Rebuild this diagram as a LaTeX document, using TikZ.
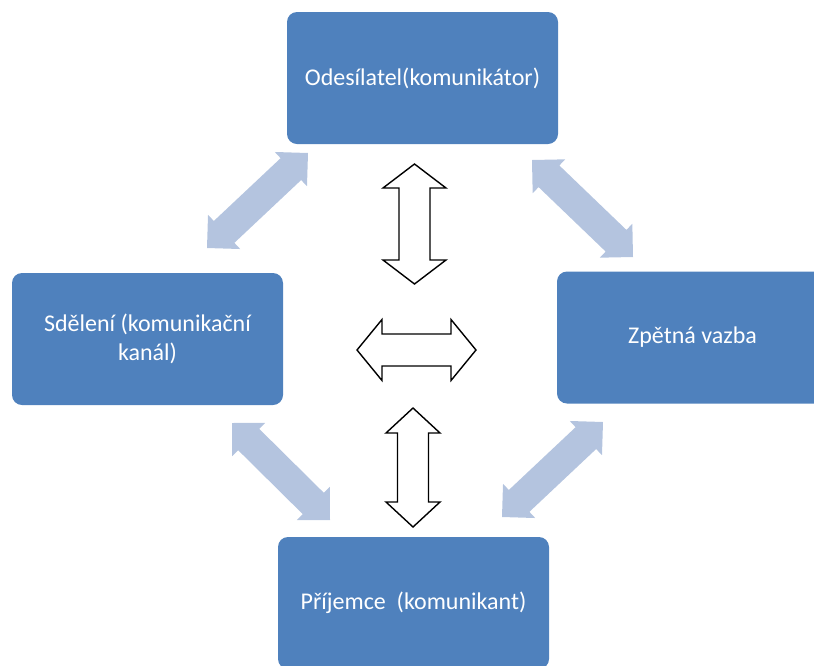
\documentclass[tikz,border=0pt]{standalone}
\usepackage{fontspec}
\setmainfont{Carlito}
\usetikzlibrary{calc}

\definecolor{boxblue}{RGB}{79,129,189}
\definecolor{paleblue}{RGB}{180,196,223}

% Two-headed block arrow from tip #2 to tip #3:
% #1 style, #4 head length, #5 head half width, #6 shaft half width
\newcommand\twowayarrow[6]{%
  \path[#1]
    ($(#2)!#4!(#3)!#5!90:(#3)$) -- (#2) --
    ($(#2)!#4!(#3)!#5!-90:(#3)$) --
    ($(#2)!#4!(#3)!#6!-90:(#3)$) --
    ($(#3)!#4!(#2)!#6!90:(#2)$) --
    ($(#3)!#4!(#2)!#5!90:(#2)$) -- (#3) --
    ($(#3)!#4!(#2)!#5!-90:(#2)$) --
    ($(#3)!#4!(#2)!#6!-90:(#2)$) --
    ($(#2)!#4!(#3)!#6!90:(#3)$) -- cycle;}

\tikzset{
  rolebox/.style={fill=boxblue, rounded corners=10pt, minimum width=271pt,
    minimum height=132pt, inner sep=0pt, text=white, align=center,
    font=\fontsize{24}{28.5}\selectfont},
  softarrow/.style={fill=paleblue},
  outlinearrow/.style={draw=black, fill=white, line width=1.4pt, line join=miter}
}

\begin{document}
\begin{tikzpicture}[x=1pt, y=-1pt]
  \useasboundingbox (0,0) rectangle (814,665);
  \clip (0,0) rectangle (814,665);

  % the four participants
  \node[rolebox] (sender)   at (422.5,78)  {Odesílatel(komunikátor)};
  \node[rolebox] (message)  at (147.5,339) {Sdělení (komunikační\\kanál)};
  \node[rolebox] (feedback) at (692.5,337.5) {Zpětná vazba};
  \node[rolebox] (receiver) at (413.5,603) {Příjemce\ \ (komunikant)};

  % tips of the pale diagonal arrows
  \coordinate (a1) at (207,248);  \coordinate (b1) at (308,153);
  \coordinate (a2) at (532,160);  \coordinate (b2) at (633,257);
  \coordinate (a3) at (232,423);  \coordinate (b3) at (330,520);
  \coordinate (a4) at (603,422);  \coordinate (b4) at (502,517);

  \twowayarrow{softarrow}{a1}{b1}{23.5pt}{23.5pt}{15pt}
  \twowayarrow{softarrow}{a2}{b2}{23.5pt}{23.5pt}{15pt}
  \twowayarrow{softarrow}{a3}{b3}{23.5pt}{23.5pt}{15pt}
  \twowayarrow{softarrow}{a4}{b4}{23.5pt}{23.5pt}{15pt}

  % tips of the outlined arrows in the centre
  \coordinate (v1) at (414.5,164); \coordinate (w1) at (414.5,284);
  \coordinate (hl) at (357,350);   \coordinate (hr) at (476,350);
  \coordinate (v2) at (413,408);   \coordinate (w2) at (413,527);

  \twowayarrow{outlinearrow}{v1}{w1}{24pt}{31.5pt}{15.5pt}
  \twowayarrow{outlinearrow}{hl}{hr}{25pt}{30.5pt}{16pt}
  \twowayarrow{outlinearrow}{v2}{w2}{25pt}{27pt}{15.5pt}
\end{tikzpicture}
\end{document}
